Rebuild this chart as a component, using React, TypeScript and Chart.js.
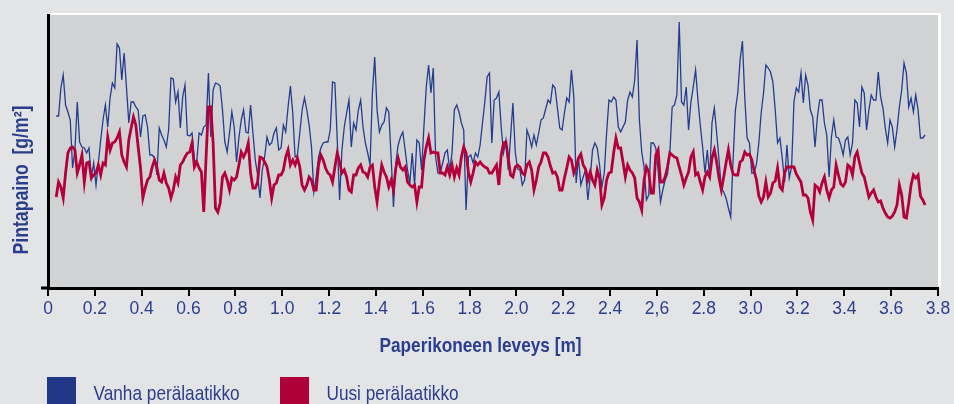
import React, { useEffect, useRef } from 'react';
import { Chart, registerables } from 'chart.js';

Chart.register(...registerables);

// Sample positions across the machine width [m]
const X_START = 0.035;
const X_STEP = 0.01;

// x-axis tick values and their printed labels
const X_TICKS = [0, 0.2, 0.4, 0.6, 0.8, 1.0, 1.2, 1.4, 1.6, 1.8, 2.0, 2.2, 2.4, 2.6, 2.8, 3.0, 3.2, 3.4, 3.6, 3.8];
const X_TICK_LABELS = ['0', '0.2', '0.4', '0.6', '0.8', '1.0', '1.2', '1.4', '1.6', '1.8', '2.0', '2.2', '2.4', '2,6', '2.8', '3.0', '3.2', '3.4', '3.6', '3.8'];

const SERIES_NAMES = ['Vanha perälaatikko', 'Uusi perälaatikko'];
const X_TITLE = 'Paperikoneen leveys [m]';
const Y_TITLE = 'Pintapaino  [g/m²]';

// Basis weight profile, old headbox (relative units)
const VANHA = [
  172, 172, 200, 213, 183, 176, 168, 120, 138, 186, 146, 141, 140, 135, 140, 110, 125, 103, 125, 148,
  168, 183, 161, 190, 205, 200, 244, 240, 208, 235, 201, 165, 186, 186, 181, 178, 151, 172, 173, 161,
  133, 133, 130, 113, 160, 153, 148, 141, 158, 210, 209, 186, 196, 160, 191, 203, 153, 152, 155, 128,
  126, 155,
  153, 161, 163, 215, 151, 198, 205, 204, 202, 178, 146, 136, 155, 176, 161, 126, 150, 168, 178, 156,
  155, 183, 155, 128, 113, 90, 118, 131, 151, 143, 145, 155, 160, 138, 140, 163, 156, 181, 202, 175,
  131, 133, 155, 178, 190, 178, 163, 141, 96, 111, 131, 140, 145, 146, 146, 158, 206, 205, 148, 88,
  138, 161, 175, 188,
  141, 165, 158, 178, 188, 161, 145, 135, 123, 195, 231, 178, 156, 163, 166, 180, 176, 131, 81, 125,
  143, 151, 156, 138, 118, 105, 135, 103, 148, 145, 118, 161, 201, 223, 195, 220, 131, 115, 115, 125,
  135, 138, 118, 135, 178, 183, 176, 165, 158, 78, 131, 133, 125, 135, 131, 143, 165, 186, 211, 215,
  145, 188, 190, 196,
  161, 135, 148, 118, 151, 185, 136, 119, 118, 103, 108, 158, 151, 141, 153, 143, 155, 168, 170, 179,
  188, 185, 203, 200, 180, 160, 158, 175, 190, 186, 218, 191, 105, 130, 103, 111, 118, 88, 110, 138,
  145, 140, 123, 101, 115, 155, 188, 186, 191, 188, 161, 156, 161, 166, 188, 196, 191, 208, 248, 168,
  136, 121, 88, 93,
  145, 145, 140, 118, 86, 98, 108, 114, 135, 181, 183, 193, 266, 186, 183, 201, 158, 186, 201, 218,
  188, 163, 141, 115, 138, 111, 165, 180, 155, 128, 100, 96, 90, 80, 71, 128, 178, 195, 228, 247,
  190, 150, 145, 115, 115, 124, 145, 175, 195, 223, 220, 216, 206, 178, 145, 150, 130, 106, 143, 110,
  121, 186, 200, 196,
  215, 185, 213, 203, 178, 171, 141, 171, 188, 188, 165, 153, 111, 151, 168, 151, 150, 143, 133, 148,
  151, 133, 145, 188, 185, 161, 201, 195, 158, 178, 193, 188, 188, 216, 191, 180, 160, 145, 168, 161,
  141, 158, 181, 198, 225, 215, 181, 190, 176, 193, 178, 150, 150, 153,
];

// Basis weight profile, new headbox (relative units)
const UUSI = [
  91, 106, 101, 90, 115, 135, 140, 141, 138, 115, 123, 133, 106, 125, 126, 110, 113, 115, 123, 113,
  125, 123, 151, 138, 145, 146, 150, 156, 133, 126, 121, 148, 160, 171, 163, 141, 120, 90, 100, 108,
  111, 121, 128, 121, 108, 106, 115, 105, 100, 90, 98, 111, 105, 123, 126, 131, 135, 136, 145, 121,
  126, 120,
  116, 76, 131, 181, 181, 145, 80, 76, 85, 111, 115, 108, 98, 110, 108, 111, 123, 136, 131, 136,
  145, 115, 100, 100, 106, 131, 130, 126, 121, 108, 90, 103, 105, 113, 113, 118, 131, 138, 123, 128,
  123, 130, 121, 103, 98, 103, 111, 108, 98, 98, 123, 133, 128, 120, 115, 113, 106, 121, 135, 126,
  115, 118, 111, 98,
  96, 113, 113, 120, 123, 116, 115, 111, 121, 123, 101, 86, 106, 123, 116, 111, 101, 108, 98, 120,
  130, 121, 118, 121, 106, 103, 101, 103, 86, 101, 101, 128, 141, 150, 135, 136, 135, 135, 115, 115,
  113, 121, 113, 123, 111, 120, 113, 131, 141, 135, 116, 106, 115, 126, 123, 126, 123, 121, 120, 115,
  115, 119, 123, 103,
  133, 145, 146, 130, 113, 111, 121, 123, 121, 115, 113, 123, 126, 118, 98, 108, 121, 126, 135, 135,
  131, 122, 115, 116, 111, 98, 98, 110, 120, 131, 128, 115, 121, 130, 134, 123, 119, 108, 116, 108,
  103, 118, 110, 83, 90, 108, 115, 116, 135, 150, 140, 140, 126, 111, 123, 118, 115, 110, 90, 86,
  78, 108, 121, 116,
  95, 95, 133, 138, 106, 106, 111, 121, 135, 133, 131, 130, 121, 113, 103, 110, 116, 131, 136, 113,
  115, 106, 98, 111, 116, 111, 130, 138, 126, 110, 98, 111, 125, 138, 123, 114, 113, 113, 126, 128,
  136, 133, 134, 128, 117, 108, 92, 86, 91, 106, 91, 95, 105, 107, 120, 101, 98, 115, 121, 121,
  121, 121, 114, 110,
  106, 93, 93, 90, 76, 68, 103, 101, 96, 105, 111, 98, 90, 98, 101, 123, 113, 104, 102, 106,
  123, 121, 113, 131, 136, 125, 115, 111, 101, 91, 95, 98, 91, 86, 87, 80, 75, 71, 70, 72,
  76, 83, 103, 93, 71, 70, 85, 103, 113, 110, 113, 92, 88, 83,
];

const Y_MIN = 0;
const Y_MAX = 273;

const BLUE = '#223d8f';
const RED = '#b3003b';
const LEGEND_BLUE = '#1f3786';
const LEGEND_RED = '#b0003a';
const TEXT = '#2b3e8d';
const PAGE_BG = '#e3e4e6';
const PLOT_BG = '#d1d2d4';
const REGULAR = "'Liberation Sans', Arial, Helvetica, sans-serif";
const NARROW = "'Liberation Sans Narrow', 'Arial Narrow', 'Liberation Sans', Arial, sans-serif";

// Detect whether a narrow face is installed; otherwise emulate it by horizontal scaling.
function narrowAvailable(): boolean {
  const c = document.createElement('canvas').getContext('2d');
  if (!c) return false;
  const s = 'Vanha perälaatikko 0123456789';
  c.font = "20px 'Liberation Sans'";
  const reg = c.measureText(s).width;
  c.font = "20px 'Liberation Sans Narrow', 'Liberation Sans'";
  const nar = c.measureText(s).width;
  return nar < reg * 0.9;
}

const toPoints = (vals: number[]) => vals.map((v, i) => ({ x: X_START + i * X_STEP, y: v }));

function makeDecor(hasNarrow: boolean) {
  const fam = hasNarrow ? NARROW : REGULAR;
  const sx = hasNarrow ? 1 : 0.82;
  const drawText = (ctx: CanvasRenderingContext2D, text: string, x: number, y: number, font: string, align: CanvasTextAlign, rot = 0) => {
    ctx.save();
    ctx.translate(x, y);
    if (rot) ctx.rotate(rot);
    ctx.scale(sx, 1);
    ctx.font = font;
    ctx.textAlign = align;
    ctx.textBaseline = 'alphabetic';
    ctx.fillText(text, 0, 0);
    ctx.restore();
  };
  return {
    id: 'decor',
    beforeDraw(chart: any) {
      const { ctx, chartArea: a } = chart;
      ctx.save();
      ctx.fillStyle = PLOT_BG;
      ctx.fillRect(a.left, a.top, a.right - a.left, a.bottom - a.top);
      ctx.fillStyle = '#ffffff';
      ctx.fillRect(a.left, a.top - 2, a.right - a.left + 3, 2);
      ctx.fillRect(a.right, a.top - 2, 3, a.bottom - a.top + 2);
      ctx.restore();
    },
    afterDraw(chart: any) {
      const { ctx, chartArea: a } = chart;
      ctx.save();
      ctx.fillStyle = '#000000';
      ctx.fillRect(a.left - 7, a.bottom - 1.5, 8, 3);

      ctx.fillStyle = TEXT;
      drawText(ctx, Y_TITLE, 27.5, 180, `bold 21.5px ${fam}`, 'center', -Math.PI / 2);
      drawText(ctx, X_TITLE, 480.5, 351.5, `bold 21px ${fam}`, 'center');

      ctx.fillStyle = LEGEND_BLUE;
      ctx.fillRect(47, 377, 29, 29);
      ctx.fillStyle = LEGEND_RED;
      ctx.fillRect(280, 377, 29, 29);
      ctx.fillStyle = TEXT;
      drawText(ctx, SERIES_NAMES[0], 93.5, 399.5, `21px ${fam}`, 'left');
      drawText(ctx, SERIES_NAMES[1], 326.5, 399.5, `21px ${fam}`, 'left');
      ctx.restore();
    },
  };
}

export default function App() {
  const ref = useRef<HTMLCanvasElement | null>(null);

  useEffect(() => {
    if (!ref.current) return;
    const hasNarrow = narrowAvailable();
    const tickFont = hasNarrow ? { family: NARROW, size: 18.5 } : { family: REGULAR, size: 17.5 };
    const chart = new Chart(ref.current, {
      type: 'line',
      data: {
        datasets: [
          {
            label: SERIES_NAMES[0],
            data: toPoints(VANHA),
            borderColor: BLUE,
            borderWidth: 1.3,
            pointRadius: 0,
            tension: 0,
            order: 1,
          },
          {
            label: SERIES_NAMES[1],
            data: toPoints(UUSI),
            borderColor: RED,
            borderWidth: 2.8,
            pointRadius: 0,
            tension: 0,
            order: 0,
          },
        ],
      },
      options: {
        responsive: false,
        animation: false,
        devicePixelRatio: 1,
        parsing: false,
        layout: { padding: { left: 0, top: 15, right: 16, bottom: 0 } },
        plugins: {
          legend: { display: false },
          tooltip: { enabled: false },
        },
        scales: {
          x: {
            type: 'linear',
            min: 0,
            max: 3.8,
            afterBuildTicks: (s: any) => {
              s.ticks = X_TICKS.map((v) => ({ value: v }));
            },
            afterFit: (s: any) => {
              s.height = 116;
            },
            ticks: {
              autoSkip: false,
              maxRotation: 0,
              padding: 3,
              color: TEXT,
              font: tickFont,
              callback: (_v: any, i: number) => X_TICK_LABELS[i],
            },
            grid: {
              drawOnChartArea: false,
              drawTicks: true,
              tickLength: 8,
              color: '#000000',
              lineWidth: 2,
            },
            border: { display: true, color: '#000000', width: 3 },
          },
          y: {
            min: Y_MIN,
            max: Y_MAX,
            afterFit: (s: any) => {
              s.width = 48;
            },
            ticks: { display: false },
            grid: { display: false },
            border: { display: true, color: '#000000', width: 3 },
          },
        },
      },
      plugins: [makeDecor(hasNarrow)],
    });
    return () => chart.destroy();
  }, []);

  return (
    <div style={{ position: 'absolute', left: 0, top: 0, width: 954, height: 404, background: PAGE_BG, overflow: 'hidden' }}>
      <canvas ref={ref} width={954} height={404} style={{ display: 'block', width: 954, height: 404 }} />
    </div>
  );
}
